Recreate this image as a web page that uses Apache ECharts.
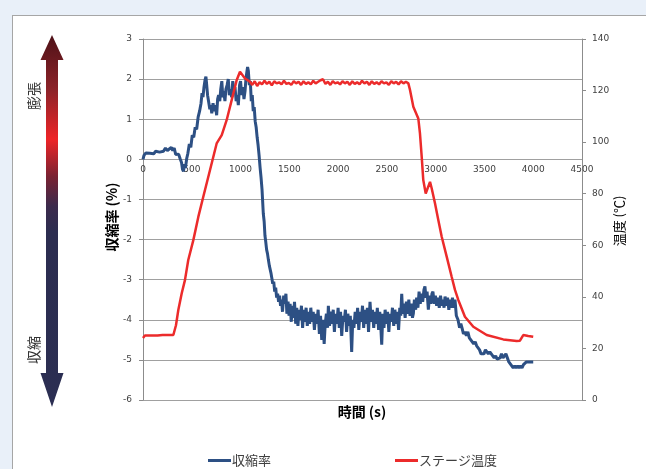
<!DOCTYPE html>
<html>
<head>
<meta charset="utf-8">
<script src="https://cdn.jsdelivr.net/npm/echarts@6/dist/echarts.min.js"></script>
<style>
html,body{margin:0;padding:0;background:#e9f0f9;width:646px;height:469px;overflow:hidden;}
#panel{position:absolute;left:12px;top:15px;width:700px;height:500px;background:#fff;border:1px solid #a6a6a6;}
#chart{position:absolute;left:0;top:0;width:646px;height:469px;}
</style>
</head>
<body>
<div id="panel"></div>
<div id="chart"></div>
<script>
// ---- data ----
const xTicks = [0, 500, 1000, 1500, 2000, 2500, 3000, 3500, 4000, 4500];
const seriesNames = ['収縮率', 'ステージ温度'];

const shrinkTime = [0,10,30,50,70,90,110,130,150,170,190,210,230,250,270,290,305,320,335,350,365,380,395,405,415,425,435,448,460,475,490,505,520,535,550,565,580,595,605,615,625,636,645,653,662,672,685,695,705,718,730,742,755,765,775,787,797,808,818,828,840,850,862,874,885,896,909,920,932,943,955,966,977,990,1000,1012,1024,1035,1046,1055,1063,1072,1080,1090,1100,1110,1120,1130,1140,1150,1160,1170,1180,1190,1200,1210,1220,1233,1242,1250,1258,1267,1276,1285,1295,1305,1313,1320,1330,1340,1350,1360,1370,1380,1390,1400,1410,1420,1430,1442,1453,1465,1475,1487,1497,1508,1520,1530,1542,1553,1565,1576,1588,1600,1612,1624,1636,1648,1660,1672,1684,1696,1708,1720,1732,1745,1757,1770,1782,1795,1808,1820,1832,1845,1857,1868,1880,1892,1900,1912,1925,1937,1950,1962,1975,1987,2000,2012,2025,2037,2050,2062,2075,2087,2100,2112,2125,2139,2150,2162,2175,2187,2200,2212,2225,2237,2250,2262,2275,2287,2300,2312,2327,2340,2352,2365,2377,2390,2402,2415,2427,2437,2447,2458,2470,2482,2495,2507,2520,2532,2545,2557,2570,2582,2595,2607,2620,2632,2642,2652,2662,2675,2687,2700,2712,2725,2737,2750,2762,2771,2782,2795,2805,2818,2830,2842,2855,2867,2880,2890,2900,2912,2925,2937,2950,2962,2972,2985,2997,3010,3024,3037,3050,3062,3075,3086,3096,3110,3122,3135,3147,3160,3172,3185,3198,3212,3229,3245,3258,3270,3285,3300,3315,3330,3345,3360,3375,3390,3405,3420,3435,3450,3465,3480,3495,3510,3525,3540,3555,3570,3585,3600,3615,3630,3645,3660,3675,3690,3705,3720,3735,3750,3765,3780,3795,3810,3825,3840,3855,3870,3885,3900,3915,3930,3950,3975,4000];
const shrinkValue = [0.0,0.1,0.16,0.12,0.15,0.11,0.14,0.2,0.24,0.18,0.22,0.2,0.28,0.22,0.26,0.3,0.22,0.28,0.12,0.16,0.13,0.02,-0.08,-0.25,-0.3,-0.12,-0.22,0.02,0.15,0.38,0.3,0.6,0.55,0.8,0.75,1.05,1.2,1.4,1.65,1.55,1.8,1.98,2.06,1.85,1.6,1.45,1.25,1.35,1.15,1.4,1.2,1.35,1.1,1.5,1.6,1.45,1.75,1.95,1.55,1.7,1.45,1.75,1.85,2.0,1.6,1.75,1.55,1.95,1.7,1.8,1.45,1.6,1.35,1.85,1.95,1.6,1.8,1.5,1.7,2.0,2.15,2.3,2.2,1.85,1.95,1.45,1.6,1.2,1.3,0.95,0.8,0.55,0.35,0.1,-0.2,-0.45,-0.75,-1.35,-1.55,-1.9,-2.05,-2.25,-2.35,-2.5,-2.65,-2.62,-2.85,-2.95,-3.1,-3.05,-3.3,-3.2,-3.45,-3.35,-3.55,-3.4,-3.65,-3.5,-3.8,-3.4,-3.6,-3.35,-3.85,-3.55,-3.9,-3.6,-4.05,-3.65,-3.95,-3.55,-4.1,-3.7,-4.15,-3.75,-4.0,-3.65,-4.2,-3.75,-4.05,-3.7,-4.15,-3.8,-4.1,-3.7,-4.05,-3.8,-4.25,-3.85,-4.1,-3.75,-4.35,-3.9,-4.5,-4.0,-4.6,-4.1,-3.85,-4.2,-3.65,-4.15,-3.8,-4.1,-3.75,-4.3,-3.85,-4.1,-3.7,-4.2,-3.8,-4.4,-3.9,-4.05,-3.75,-4.3,-3.85,-4.15,-3.9,-4.8,-4.0,-4.2,-3.8,-4.1,-3.7,-4.25,-3.8,-4.05,-3.65,-4.2,-3.75,-4.1,-3.7,-4.3,-3.55,-4.05,-3.75,-4.2,-3.8,-4.1,-3.7,-4.25,-3.8,-4.15,-4.62,-3.85,-4.2,-3.75,-4.1,-3.8,-4.3,-3.85,-4.05,-3.7,-4.15,-3.75,-4.1,-3.8,-4.25,-3.7,-3.9,-3.35,-3.85,-3.6,-3.95,-3.55,-3.85,-3.5,-3.9,-3.6,-3.95,-3.85,-3.5,-3.75,-3.45,-3.7,-3.3,-3.6,-3.35,-3.55,-3.25,-3.17,-3.45,-3.3,-3.75,-3.4,-3.6,-3.35,-3.3,-3.6,-3.4,-3.65,-3.45,-3.7,-3.4,-3.65,-3.5,-3.7,-3.42,-3.65,-3.45,-3.75,-3.5,-3.7,-3.45,-3.7,-3.5,-3.9,-4.0,-4.2,-4.1,-4.2,-4.35,-4.3,-4.4,-4.3,-4.45,-4.5,-4.55,-4.6,-4.55,-4.65,-4.7,-4.75,-4.85,-4.82,-4.85,-4.75,-4.8,-4.85,-4.8,-4.85,-4.9,-4.95,-4.9,-4.98,-5.0,-4.95,-4.85,-4.95,-4.9,-4.85,-4.95,-5.05,-5.1,-5.15,-5.2,-5.15,-5.2,-5.15,-5.2,-5.15,-5.2,-5.12,-5.1,-5.05,-5.05,-5.05,-5.05];

const tempTime = [0,20,60,100,150,200,250,311,338,362,397,430,464,516,567,618,687,755,807,858,909,960,994,1012,1046,1097,1120,1145,1170,1195,1220,1245,1270,1295,1320,1345,1370,1395,1420,1445,1470,1495,1520,1545,1570,1595,1620,1645,1670,1695,1720,1745,1770,1795,1820,1845,1870,1895,1920,1945,1970,1995,2020,2045,2070,2095,2120,2145,2170,2195,2220,2245,2270,2295,2320,2345,2370,2395,2420,2445,2470,2495,2520,2545,2570,2595,2620,2645,2670,2695,2720,2737,2771,2822,2839,2857,2873,2898,2918,2942,2959,2993,3027,3062,3113,3164,3198,3232,3300,3386,3523,3693,3830,3864,3898,3949,4000];
const tempValue = [24,25,25,25,25,25.2,25.2,25.2,29,34.9,41.4,46.5,54.3,62,71,78.8,89.2,99.5,102.7,108.6,116.3,124,127.3,126.7,124.7,123.4,122.2,123.6,121.8,123.2,122.4,123.8,122.6,123.4,122.0,123.6,122.8,123.2,122.4,123.8,122.6,123.0,122.2,123.6,122.8,123.4,122.2,123.6,122.6,123.2,122.4,123.8,122.8,123.4,124.0,124.4,122.6,123.4,122.2,123.6,122.8,123.2,122.4,123.6,122.8,123.4,122.2,123.6,122.6,123.2,122.4,123.8,122.8,123.4,122.2,123.6,122.6,123.2,122.4,123.6,122.8,123.2,122.2,123.6,122.8,123.4,122.4,123.6,122.8,123.4,122.8,120.2,113.7,109.2,103.4,94.3,85.3,80.1,79.5,84.6,82.1,76.3,69.8,63.3,55.6,47.8,42.7,38.8,32.3,28.4,25.2,23.5,22.9,23,25.2,24.8,24.5];

const zip = (a, b) => a.map((v, i) => [v, b[i]]);

const chart = echarts.init(document.getElementById('chart'), null, {renderer: 'canvas'});
const numFont = 'DejaVu Sans';
const jpFont = '"Noto Sans CJK JP", "Noto Sans", sans-serif';
const blue = '#2d5084';
const red = '#ec2b2b';
const plotTop = 39, plotH = 361;
const zeroY = plotTop + plotH * 3 / 9;

chart.setOption({
  backgroundColor: 'transparent',
  animation: false,
  grid: [
    {left: 143, top: plotTop, width: 439, height: plotH, containLabel: false},
    {left: 143, top: plotTop, width: 439, height: zeroY - plotTop, containLabel: false}
  ],
  xAxis: [
    {
      gridIndex: 0, type: 'value', min: 0, max: 4500, interval: 500,
      axisLine: {show: false}, axisTick: {show: false}, splitLine: {show: false},
      axisLabel: {show: false}
    },
    {
      gridIndex: 1, type: 'value', min: 0, max: 4500, interval: 500,
      axisLine: {show: false}, axisTick: {show: false}, splitLine: {show: false},
      axisLabel: {fontFamily: numFont, fontSize: 9, color: '#404040', margin: 6,
        formatter: v => xTicks.includes(v) ? String(v) : ''}
    }
  ],
  yAxis: [
    {
      gridIndex: 0, type: 'value', min: -6, max: 3, interval: 1,
      axisLine: {show: true, lineStyle: {color: '#8c8c8c', width: 1}},
      axisTick: {show: true, length: 4, lineStyle: {color: '#8c8c8c'}},
      splitLine: {show: true, lineStyle: {color: '#a0a0a0', width: 1}},
      axisLabel: {fontFamily: numFont, fontSize: 9, color: '#404040', margin: 11}
    },
    {
      gridIndex: 0, type: 'value', min: 0, max: 140, interval: 20, position: 'right',
      axisLine: {show: true, onZero: false, lineStyle: {color: '#8c8c8c', width: 1}},
      axisTick: {show: true, length: 4, lineStyle: {color: '#8c8c8c'}},
      splitLine: {show: false},
      axisLabel: {fontFamily: numFont, fontSize: 9, color: '#404040', margin: 10}
    },
    {
      gridIndex: 1, type: 'value', min: 0, max: 3, show: false
    }
  ],
  legend: [
    {data: [seriesNames[0]], left: 203, top: 449, icon: 'rect', itemWidth: 23, itemHeight: 3,
     textStyle: {fontFamily: jpFont, fontSize: 13, color: '#404040', padding: [0, 0, 0, -4]}},
    {data: [seriesNames[1]], left: 390, top: 449, icon: 'rect', itemWidth: 23, itemHeight: 3,
     textStyle: {fontFamily: jpFont, fontSize: 13, color: '#404040', padding: [0, 0, 0, -4]}}
  ],
  series: [
    {name: seriesNames[0], type: 'line', xAxisIndex: 0, yAxisIndex: 0, data: zip(shrinkTime, shrinkValue),
     showSymbol: false, symbol: 'none', lineStyle: {color: blue, width: 3}, itemStyle: {color: blue}, z: 3},
    {name: seriesNames[1], type: 'line', xAxisIndex: 0, yAxisIndex: 1, data: zip(tempTime, tempValue),
     showSymbol: false, symbol: 'none', lineStyle: {color: red, width: 2.5}, itemStyle: {color: red}, z: 4}
  ],
  graphic: [
    {type: 'polygon', shape: {points: [[52,35],[63.5,60],[58,60],[58,373],[63.5,373],[52,407],[40.5,373],[46,373],[46,60],[40.5,60]]},
     style: {fill: new echarts.graphic.LinearGradient(0, 0, 0, 1, [
       {offset: 0, color: '#4e1218'},
       {offset: 0.15, color: '#8e2329'},
       {offset: 0.28, color: '#ee2427'},
       {offset: 0.38, color: '#7a2232'},
       {offset: 0.46, color: '#3c2a4c'},
       {offset: 0.53, color: '#2c2d50'},
       {offset: 1, color: '#2b2e52'}
     ])}},
    {type: 'text', x: 34, y: 96, rotation: Math.PI / 2,
     style: {text: '膨張', font: '14px ' + jpFont, fill: '#333', textAlign: 'center', textVerticalAlign: 'middle'}},
    {type: 'text', x: 34, y: 350, rotation: Math.PI / 2,
     style: {text: '収縮', font: '14px ' + jpFont, fill: '#333', textAlign: 'center', textVerticalAlign: 'middle'}},
    {type: 'text', x: 112, y: 217, rotation: Math.PI / 2,
     style: {text: '収縮率 (%)', font: 'bold 14px ' + jpFont, fill: '#000', textAlign: 'center', textVerticalAlign: 'middle'}},
    {type: 'text', x: 619, y: 221, rotation: Math.PI / 2,
     style: {text: '温度 (℃)', font: '13px ' + jpFont, fill: '#000', textAlign: 'center', textVerticalAlign: 'middle'}},
    {type: 'text', x: 362, y: 412,
     style: {text: '時間 (s)', font: 'bold 14px ' + jpFont, fill: '#000', textAlign: 'center', textVerticalAlign: 'middle'}}
  ]
});
</script>
</body>
</html>
